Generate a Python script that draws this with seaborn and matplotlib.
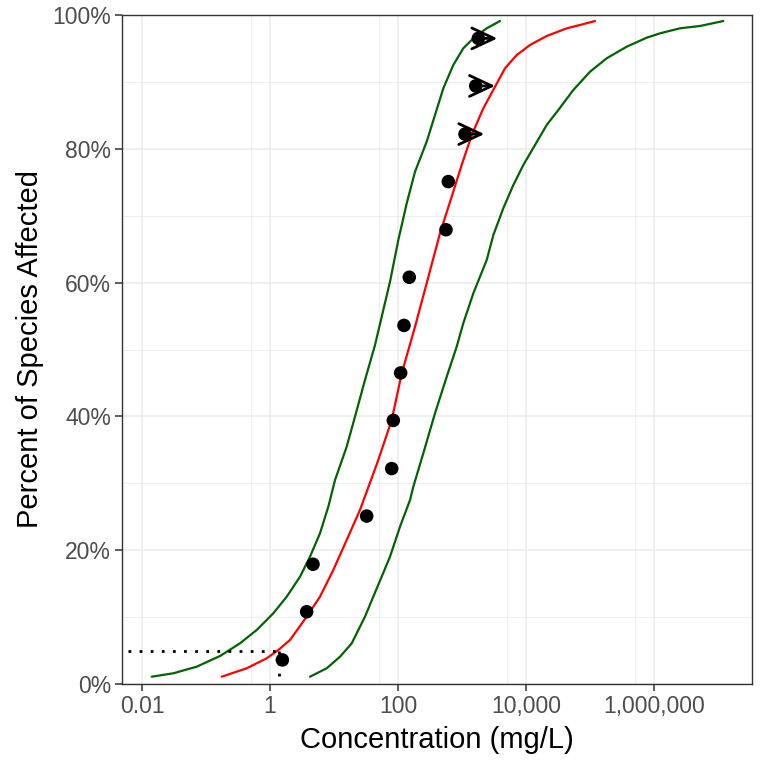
import numpy as np
import pandas as pd
import matplotlib
matplotlib.use("Agg")
import matplotlib.pyplot as plt
import seaborn as sns

# observed concentrations (mg/L) and plotting positions
conc = [1.56, 3.74, 4.70, 32.4, 79.7, 84.5, 110, 124, 150, 562, 611, 1114, 1637, 1798]
frac = [0.036, 0.108, 0.179, 0.251, 0.322, 0.394, 0.465, 0.536, 0.608,
        0.679, 0.751, 0.822, 0.894, 0.965]

# right-censored records: start, end of arrow
cens_conc = [1114, 1637, 1798]
cens_frac = [0.822, 0.894, 0.965]
cens_upper = [2230, 3280, 3563]

# fitted curve (red)
fit_pct = [1.09, 2.35, 3.84, 5.08, 6.58, 10.06, 13.05, 17.04, 21.52, 26.01, 33.48, 39.46,
           46.44, 53.41, 59.9, 67.37, 72.84, 77.58, 82.06, 86.05, 89.28, 92.03, 94.02,
           95.52, 96.86, 98.01, 98.51, 99.10]
fit_conc = [0.176, 0.433, 0.887, 1.349, 2.054, 3.741, 6.04, 9.75, 15.78, 25.47, 49.2, 79.8,
            114.3, 184.5, 280.5, 452.9, 690, 988.5, 1419, 2153, 3281, 4699, 7161,
            11550, 21040, 43250, 69820, 119700]

# confidence band (green), lower side
lo_pct = [1.09, 1.60, 2.59, 4.19, 6.08, 8.07, 10.57, 13.05, 16.04, 19.03, 22.53, 26.5,
          30.5, 35.47, 39.96, 45.44, 50.67, 55.9, 60.13, 66.37, 71.85, 76.58, 81.06,
          85.05, 89.04, 92.53, 95.02, 96.76, 98.01, 99.10]
lo_conc = [0.0142, 0.0308, 0.0716, 0.166, 0.340, 0.619, 1.127, 1.824, 2.944, 4.217, 6.04,
           8.15, 10.38, 15.78, 21.28, 30.48, 43.75, 58.9, 75.0, 101.2, 136.8, 184.5, 280.5,
           378.4, 510.5, 731, 1047, 1596, 2432, 3926]

# confidence band (green), upper side
hi_pct = [1.09, 2.35, 4.08, 6.08, 8.57, 10.06, 13.05, 16.04, 19.03, 23.51, 27.5, 29.49,
          34.48, 40.46, 45.93, 50.42, 53.92, 58.4, 63.38, 67.11, 71.11, 74.59, 77.58,
          80.57, 83.56, 85.8, 88.79, 91.52, 93.53, 95.26, 96.61, 97.26, 98.01, 98.36, 99.10]
hi_conc = [4.217, 7.69, 12.42, 18.92, 25.47, 30.48, 41.1, 55.6, 75.0, 107.4, 154, 173.4,
           248.3, 378.4, 576.8, 826, 1047, 1503, 2432, 3090, 4416, 6339, 9078,
           13840, 21040, 31990, 54830, 100000, 182400, 374100, 769100, 1242000, 2547000,
           5236000, 12110000]

# hazard concentration (5%)
hc5 = 1.38
hc_frac = 0.05
hc_xstart = 0.006

x_ticks = [0.01, 1, 100, 1e4, 1e6]
x_ticklabels = ["0.01", "1", "100", "10,000", "1,000,000"]
x_minor = [0.5, 50, 5000, 5e5]
y_ticks = [0, 0.2, 0.4, 0.6, 0.8, 1.0]
y_ticklabels = ["0%", "20%", "40%", "60%", "80%", "100%"]
y_minor = [0.1, 0.3, 0.5, 0.7, 0.9]

sns.set_theme(style="white")
plt.rcParams["font.family"] = ["Liberation Sans", "DejaVu Sans"]

fig = plt.figure(figsize=(7.68, 7.68), dpi=100)
ax = fig.add_axes([122 / 768, 84 / 768, 630 / 768, 669 / 768])
ax.set_xscale("log")
ax.set_xlim(10 ** -2.3125, 10 ** 7.531)
ax.set_ylim(0, 1)

# grid (theme_bw look)
for v in x_minor:
    ax.axvline(v, color="#EBEBEB", lw=0.6, zorder=0)
for v in y_minor:
    ax.axhline(v, color="#EBEBEB", lw=0.6, zorder=0)
for v in x_ticks:
    ax.axvline(v, color="#EBEBEB", lw=1.1, zorder=0)
for v in y_ticks:
    ax.axhline(v, color="#EBEBEB", lw=1.1, zorder=0)

lo = pd.DataFrame({"conc": lo_conc, "p": np.array(lo_pct) / 100})
hi = pd.DataFrame({"conc": hi_conc, "p": np.array(hi_pct) / 100})
fit = pd.DataFrame({"conc": fit_conc, "p": np.array(fit_pct) / 100})
sns.lineplot(data=lo, x="conc", y="p", sort=False, estimator=None, color="#006400", lw=1.6, ax=ax)
sns.lineplot(data=hi, x="conc", y="p", sort=False, estimator=None, color="#006400", lw=1.6, ax=ax)
sns.lineplot(data=fit, x="conc", y="p", sort=False, estimator=None, color="#FF0000", lw=1.6, ax=ax)

# hc5 dotted guide
ax.plot([hc_xstart, hc5], [hc_frac, hc_frac], color="black", lw=2, ls=(0, (1, 3)), zorder=3)
ax.plot([hc5, hc5], [hc_frac, 0], color="black", lw=2, ls=(0, (1, 3)), zorder=3)

pts = pd.DataFrame({"conc": conc, "p": frac})
sns.scatterplot(data=pts, x="conc", y="p", color="black", s=95, edgecolor="none", zorder=5, ax=ax)

for x0, x1, yy in zip(cens_conc, cens_upper, cens_frac):
    ax.annotate("", xy=(x1, yy), xytext=(x0, yy),
                arrowprops=dict(arrowstyle="->,head_length=1.6,head_width=0.75",
                                color="black", lw=2, shrinkA=0, shrinkB=0,
                                mutation_scale=10),
                zorder=6)

ax.set_xticks(x_ticks)
ax.set_xticklabels(x_ticklabels)
ax.xaxis.set_minor_locator(matplotlib.ticker.NullLocator())
ax.set_yticks(y_ticks)
ax.set_yticklabels(y_ticklabels)
ax.tick_params(axis="both", which="major", direction="out", length=5, width=1.1,
               color="#333333", labelcolor="#4D4D4D", labelsize=16.5, pad=3,
               bottom=True, left=True)

for s in ax.spines.values():
    s.set_color("#333333")
    s.set_linewidth(1.0)

ax.set_xlabel("Concentration (mg/L)", fontsize=21, color="black", labelpad=6)
ax.set_ylabel("Percent of Species Affected", fontsize=21, color="black", labelpad=6)

fig.savefig("out.png", dpi=100)
plt.close()
